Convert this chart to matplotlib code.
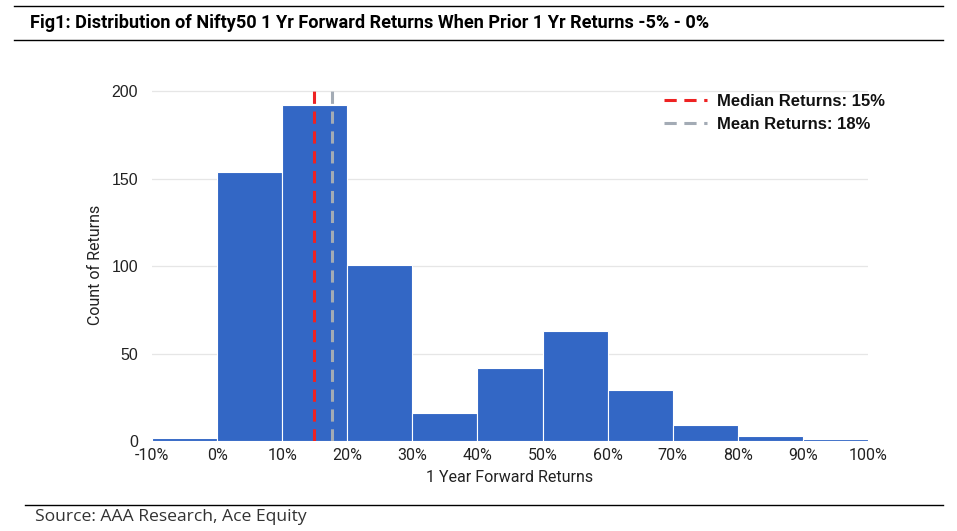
import matplotlib
matplotlib.use("Agg")
import matplotlib.pyplot as plt
from matplotlib.lines import Line2D

bin_edges = [-10, 0, 10, 20, 30, 40, 50, 60, 70, 80, 90, 100]
counts = [2, 154, 192, 101, 16, 42, 63, 29, 9, 3, 1]
median_ret = 14.9
mean_ret = 17.6
median_label = "Median Returns: 15%"
mean_label = "Mean Returns: 18%"
xticks = [-10, 0, 10, 20, 30, 40, 50, 60, 70, 80, 90, 100]
xtick_labels = ["-10%", "0%", "10%", "20%", "30%", "40%", "50%", "60%", "70%", "80%", "90%", "100%"]
yticks = [0, 50, 100, 150, 200]

fig = plt.figure(figsize=(9.57, 5.31), dpi=100)
ax = fig.add_axes([152/957, 1-441/531, (868-152)/957, (441-88)/531])

lefts = bin_edges[:-1]
widths = [b - a for a, b in zip(bin_edges[:-1], bin_edges[1:])]
ax.bar(lefts, counts, width=widths, align="edge", color="#3367C5",
       edgecolor="white", linewidth=0.8, zorder=2)

ax.axvline(median_ret, ymin=0, ymax=1, color="#EE2222", linestyle=(0, (4, 2.5)), linewidth=2.2, zorder=3)
ax.axvline(mean_ret, ymin=0, ymax=1, color="#A3ABB5", linestyle=(0, (4, 2.5)), linewidth=2.2, zorder=3)

ax.set_xlim(-10, 100)
ax.set_ylim(0, 202)
ax.set_xticks(xticks)
ax.set_xticklabels(xtick_labels, family=["Roboto", "DejaVu Sans"], fontsize=11.5, color="#222222")
ax.set_yticks(yticks)
ax.set_yticklabels([str(v) for v in yticks], family=["Liberation Sans", "DejaVu Sans"], fontsize=11.5, color="#222222")
ax.tick_params(axis="x", length=0, pad=5)
ax.tick_params(axis="y", length=0, pad=10)
ax.grid(axis="y", color="#E6E6E6", linewidth=0.9, zorder=0)
for s in ax.spines.values():
    s.set_visible(False)
ax.set_xlabel("1 Year Forward Returns", family=["Roboto", "DejaVu Sans"], fontsize=11.5, color="#222222", labelpad=5)
ax.set_ylabel("Count of Returns", family=["Roboto", "DejaVu Sans"], fontsize=11.5, color="#222222", labelpad=6)

handles = [Line2D([0], [0], color="#EE2222", linestyle=(0, (4, 2.5)), linewidth=2.2),
           Line2D([0], [0], color="#A3ABB5", linestyle=(0, (4, 2.5)), linewidth=2.2)]
leg = ax.legend(handles, [median_label, mean_label], loc="upper right",
                bbox_to_anchor=(1.045, 1.025), frameon=False,
                prop={"family": ["Liberation Sans", "DejaVu Sans"], "weight": "bold", "size": 12},
                handlelength=2.6, handletextpad=0.6, labelspacing=0.45)
for t in leg.get_texts():
    t.set_color("#111111")

# Header and footer
fig.add_artist(Line2D([14/957, 943/957], [1-6/531, 1-6/531], color="black", linewidth=1))
fig.add_artist(Line2D([14/957, 943/957], [1-40/531, 1-40/531], color="black", linewidth=1))
fig.text(30/957, 1-23/531, "Fig1: Distribution of Nifty50 1 Yr Forward Returns When Prior 1 Yr Returns -5% - 0%",
         family=["Roboto", "DejaVu Sans"], weight="bold", fontsize=13.1, va="center", ha="left")
fig.add_artist(Line2D([25/957, 943/957], [1-505/531, 1-505/531], color="black", linewidth=1))
fig.text(35/957, 1-517/531, "Source: AAA Research, Ace Equity",
         family=["Open Sans", "DejaVu Sans"], fontsize=12.6, color="#333333", va="center", ha="left")

fig.savefig("out.png", dpi=100)
